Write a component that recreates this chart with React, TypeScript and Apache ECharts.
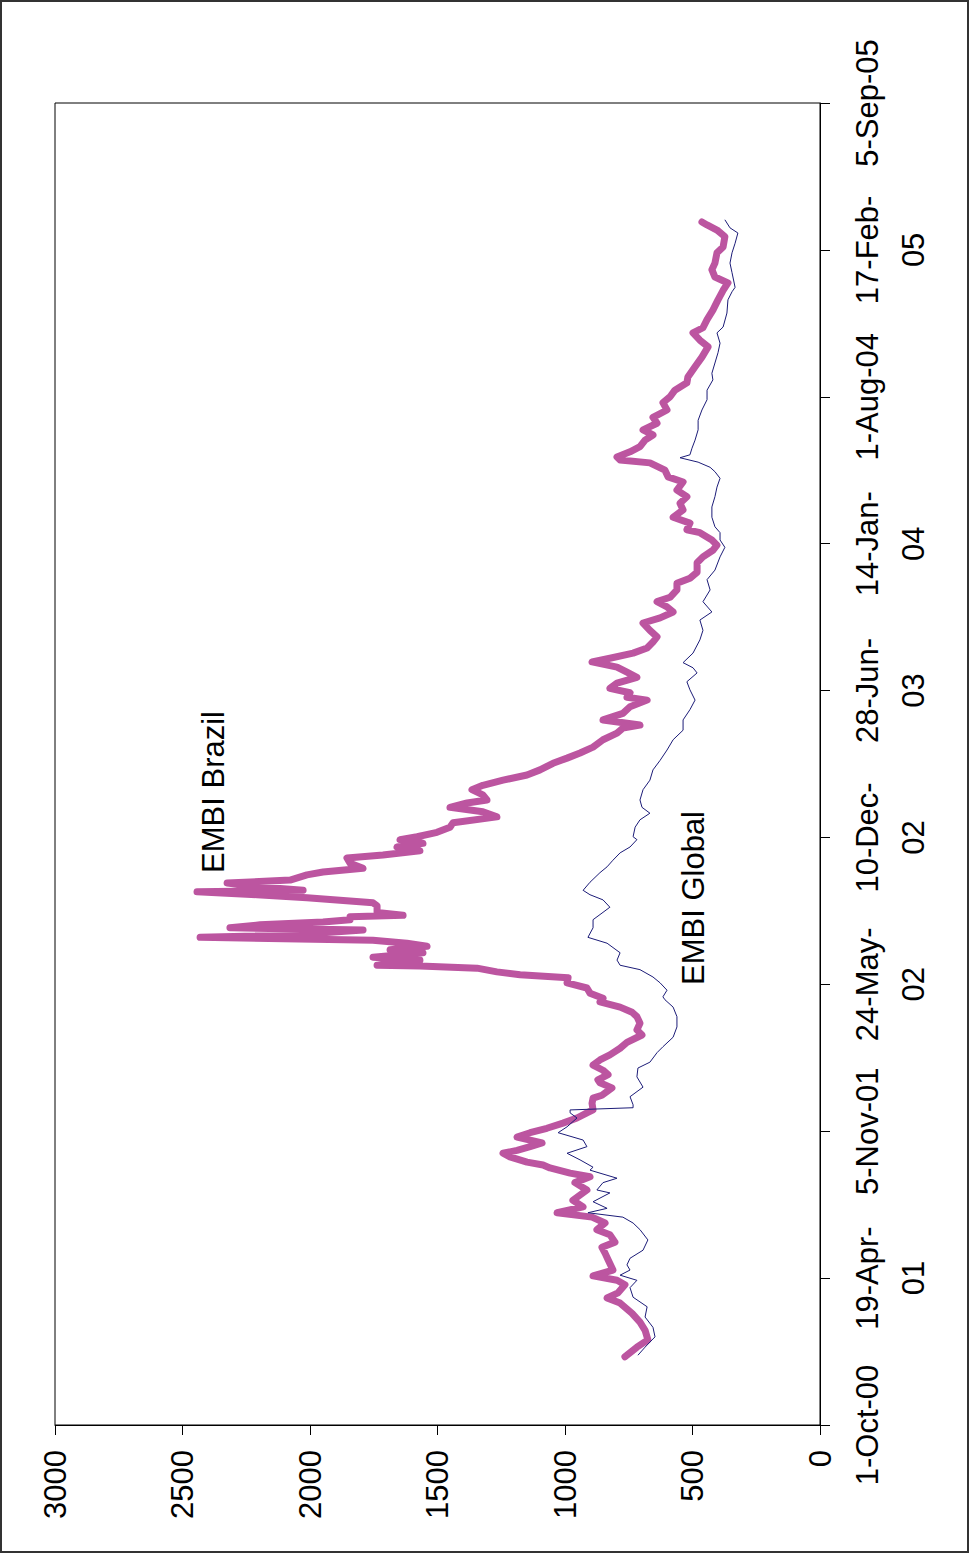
import React, { useEffect, useRef } from "react";
import * as echarts from "echarts";

// Value axis (spread, basis points)
const valueMin = 0;
const valueMax = 3000;
const valueInterval = 500;

// Time axis: days since 1-Oct-00, ticks every 200 days
const dayMin = 0;
const dayMax = 1800;
const dayInterval = 200;
const dateTickLabels = [
  "1-Oct-00",
  "19-Apr-\n01",
  "5-Nov-01",
  "24-May-\n02",
  "10-Dec-\n02",
  "28-Jun-\n03",
  "14-Jan-\n04",
  "1-Aug-04",
  "17-Feb-\n05",
  "5-Sep-05",
];

// [day since 1-Oct-00, spread]
const embiBrazil: [number, number][] = [
  [93, 765], [106, 718], [116, 675], [129, 686], [140, 706], [152, 737], [166, 784], [173, 835], [180, 792], [191, 765],
  [197, 796], [203, 890], [211, 812], [225, 831], [234, 843], [242, 855], [249, 804], [259, 824], [266, 875], [275, 843],
  [283, 894], [289, 1031], [297, 929], [306, 969], [320, 914], [330, 961], [338, 902], [343, 980], [350, 1059], [354, 1086],
  [358, 1149], [365, 1216], [370, 1243], [374, 1188], [379, 1137], [384, 1090], [388, 1137], [392, 1188], [398, 1137], [404, 1071],
  [411, 1008], [418, 953], [425, 914], [429, 890], [438, 894], [445, 890], [449, 855], [459, 816], [466, 863], [470, 871],
  [477, 831], [483, 851], [490, 890], [497, 863], [504, 824], [513, 784], [521, 757], [531, 698], [538, 718], [547, 706],
  [556, 718], [562, 737], [569, 784], [576, 863], [581, 851], [588, 902], [595, 914], [602, 992], [609, 988], [613, 1176],
  [617, 1267], [622, 1345], [625, 1569], [626, 1737], [633, 1569], [637, 1753], [643, 1557], [647, 1686], [652, 1541], [656, 1620],
  [660, 1753], [664, 2431], [667, 2078], [674, 1792], [677, 2314], [681, 2196], [685, 1949], [688, 1843], [692, 1843], [694, 1635],
  [698, 1737], [707, 1737], [711, 1753], [718, 2012], [722, 2208], [726, 2443], [728, 2027], [733, 2208], [738, 2325], [742, 2078],
  [749, 2012], [753, 1949], [758, 1792], [765, 1843], [772, 1855], [776, 1714], [782, 1569], [787, 1659], [792, 1557], [797, 1647],
  [801, 1580], [807, 1502], [814, 1451], [820, 1439], [828, 1267], [835, 1322], [841, 1451], [847, 1384], [851, 1306], [858, 1322],
  [865, 1365], [871, 1322], [878, 1243], [885, 1149], [892, 1098], [901, 1047], [908, 992], [915, 941], [923, 890], [933, 851],
  [942, 796], [949, 773], [953, 706], [960, 851], [969, 773], [978, 745], [987, 678], [991, 757], [997, 745], [1003, 824],
  [1010, 796], [1018, 718], [1025, 757], [1032, 796], [1039, 894], [1044, 824], [1051, 733], [1058, 678], [1066, 655], [1073, 639],
  [1082, 667], [1092, 694], [1099, 627], [1107, 576], [1114, 600], [1121, 639], [1127, 588], [1137, 561], [1146, 561], [1153, 510],
  [1161, 482], [1174, 482], [1182, 459], [1191, 420], [1198, 404], [1205, 424], [1215, 471], [1219, 522], [1228, 510], [1236, 576],
  [1246, 537], [1255, 549], [1264, 522], [1273, 561], [1284, 537], [1291, 596], [1300, 608], [1310, 667], [1314, 784], [1318, 796],
  [1325, 745], [1332, 706], [1341, 686], [1348, 655], [1355, 694], [1364, 639], [1372, 655], [1382, 600], [1392, 616], [1400, 588],
  [1409, 569], [1419, 522], [1427, 518], [1441, 490], [1454, 463], [1468, 439], [1477, 471], [1487, 498], [1494, 459], [1505, 443],
  [1518, 420], [1532, 400], [1545, 380], [1555, 361], [1563, 412], [1573, 424], [1582, 412], [1596, 404], [1604, 380], [1618, 373],
  [1627, 404], [1634, 443], [1638, 463],
];

const embiGlobal: [number, number][] = [
  [95, 714], [106, 686], [120, 647], [133, 655], [147, 686], [161, 678], [174, 733], [187, 745], [197, 718], [204, 784],
  [211, 745], [218, 757], [227, 745], [238, 694], [252, 675], [266, 706], [275, 733], [283, 773], [289, 910], [295, 835],
  [304, 890], [316, 824], [320, 875], [330, 851], [336, 796], [347, 902], [351, 890], [361, 941], [370, 992], [379, 914],
  [388, 929], [398, 1027], [406, 992], [418, 953], [425, 980], [429, 980], [432, 733], [436, 733], [447, 745], [460, 694],
  [474, 718], [486, 714], [494, 667], [507, 639], [515, 616], [528, 576], [542, 561], [556, 561], [569, 576], [579, 608],
  [583, 616], [592, 600], [602, 627], [610, 655], [620, 706], [626, 784], [633, 796], [643, 784], [656, 835], [664, 910],
  [677, 890], [688, 890], [698, 851], [705, 824], [715, 851], [722, 902], [728, 929], [739, 902], [752, 863], [760, 835],
  [769, 812], [779, 784], [787, 745], [797, 718], [801, 733], [814, 725], [824, 706], [833, 667], [841, 698], [851, 706],
  [865, 694], [878, 667], [892, 655], [905, 627], [919, 600], [933, 576], [946, 537], [960, 537], [974, 510], [987, 490],
  [1001, 510], [1012, 522], [1024, 482], [1031, 498], [1038, 537], [1051, 498], [1069, 471], [1082, 459], [1096, 471], [1107, 424],
  [1121, 459], [1137, 431], [1151, 443], [1164, 412], [1182, 392], [1195, 373], [1205, 392], [1215, 392], [1223, 412], [1236, 424],
  [1250, 424], [1264, 412], [1277, 404], [1289, 392], [1298, 412], [1304, 431], [1311, 478], [1317, 549], [1321, 510], [1330, 502],
  [1341, 490], [1355, 478], [1368, 478], [1382, 463], [1396, 443], [1409, 443], [1423, 420], [1432, 424], [1446, 412], [1460, 400],
  [1473, 392], [1487, 404], [1495, 380], [1514, 365], [1532, 361], [1543, 345], [1549, 333], [1569, 345], [1582, 353], [1596, 345],
  [1609, 333], [1623, 322], [1630, 353], [1641, 373],
];

const FONT = "'Liberation Sans', Arial, Helvetica, sans-serif";

export default function App() {
  const ref = useRef<HTMLDivElement>(null);

  useEffect(() => {
    document.body.style.margin = "0";
    const chart = echarts.init(ref.current!, null, { renderer: "svg" });
    chart.setOption({
      animation: false,
      backgroundColor: "#ffffff",
      textStyle: { fontFamily: FONT },
      grid: {
        left: 55,
        right: 150,
        top: 103,
        bottom: 130,
        show: true,
        borderColor: "#000",
        borderWidth: 1,
        backgroundColor: "transparent",
      },
      xAxis: {
        type: "value",
        inverse: true,
        min: valueMin,
        max: valueMax,
        interval: valueInterval,
        axisLine: { show: true, onZero: false, lineStyle: { color: "#000", width: 1 } },
        axisTick: { show: true, length: 10, lineStyle: { color: "#000", width: 1 } },
        splitLine: { show: false },
        axisLabel: {
          rotate: 90,
          margin: 25,
          fontSize: 31,
          color: "#000",
          fontFamily: FONT,
          showMinLabel: true,
          showMaxLabel: true,
          formatter: (v: number) => String(v),
        },
      },
      yAxis: {
        type: "value",
        position: "right",
        min: dayMin,
        max: dayMax,
        interval: dayInterval,
        axisLine: { show: true, onZero: false, lineStyle: { color: "#000", width: 1 } },
        axisTick: { show: true, length: 10, lineStyle: { color: "#000", width: 1 } },
        splitLine: { show: false },
        axisLabel: {
          rotate: 90,
          margin: 24,
          fontSize: 31,
          lineHeight: 46,
          color: "#000",
          fontFamily: FONT,
          showMinLabel: true,
          showMaxLabel: true,
          formatter: (v: number) => dateTickLabels[Math.round(v / dayInterval)] ?? "",
        },
      },
      series: [
        {
          name: "EMBI Brazil",
          type: "line",
          showSymbol: false,
          symbol: "none",
          data: embiBrazil.map(([d, v]) => [v, d]),
          lineStyle: { color: "#BC55A0", width: 7, cap: "round", join: "round" },
          z: 2,
        },
        {
          name: "EMBI Global",
          type: "line",
          showSymbol: false,
          symbol: "none",
          data: embiGlobal.map(([d, v]) => [v, d]),
          lineStyle: { color: "#1C1C78", width: 1 },
          z: 3,
        },
      ],
      graphic: [
        {
          type: "rect",
          shape: { x: 1, y: 1, width: 967, height: 1551 },
          style: { fill: "none", stroke: "#333", lineWidth: 2 },
          silent: true,
        },
        {
          type: "text",
          x: 213,
          y: 792,
          rotation: Math.PI / 2,
          style: {
            text: "EMBI Brazil",
            fontSize: 31,
            fontFamily: FONT,
            fill: "#000",
            align: "center",
            verticalAlign: "middle",
          },
        },
        {
          type: "text",
          x: 693,
          y: 898,
          rotation: Math.PI / 2,
          style: {
            text: "EMBI Global",
            fontSize: 31,
            fontFamily: FONT,
            fill: "#000",
            align: "center",
            verticalAlign: "middle",
          },
        },
      ],
    });
    return () => chart.dispose();
  }, []);

  return <div ref={ref} style={{ width: 970, height: 1555 }} />;
}
